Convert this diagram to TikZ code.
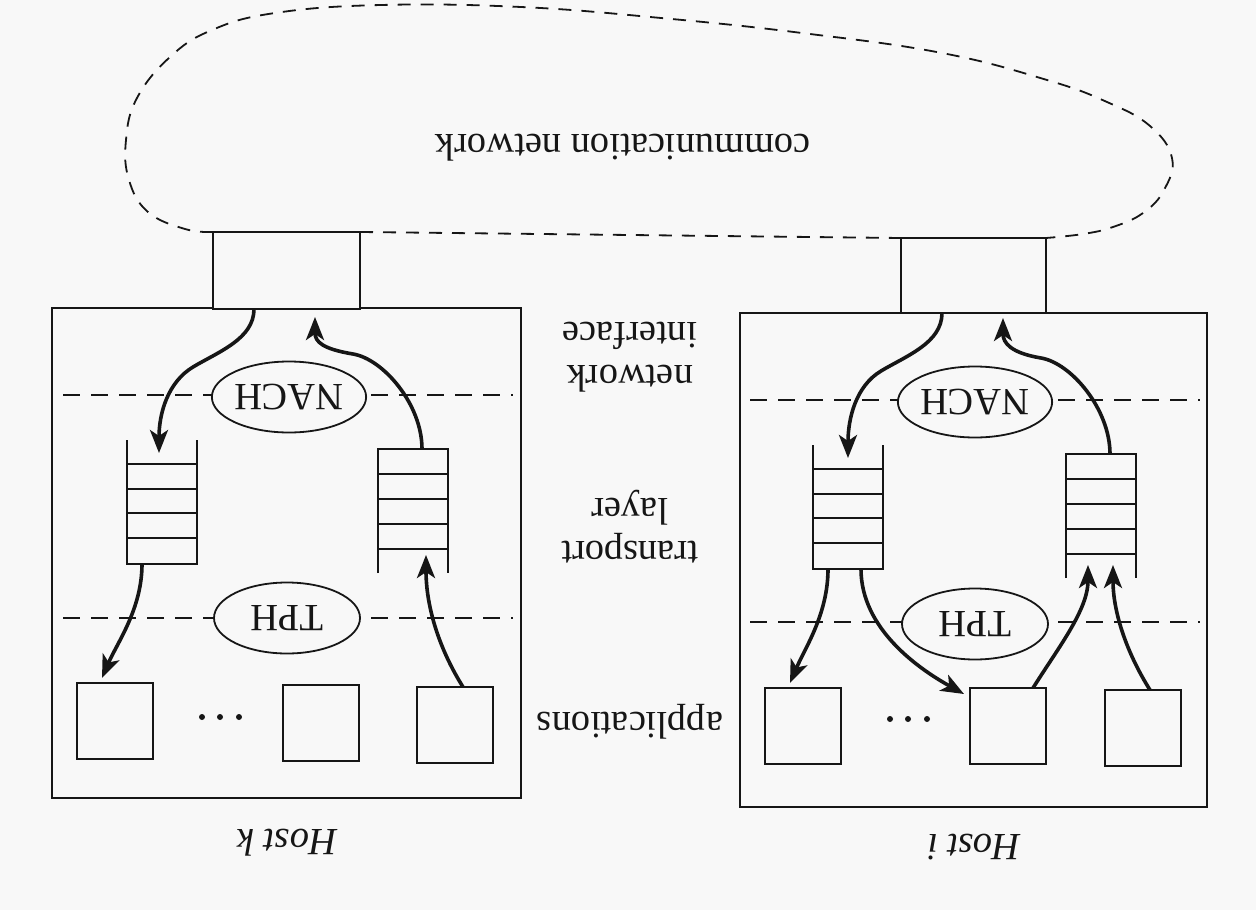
\documentclass[tikz,border=0pt]{standalone}
\usepackage{fontspec}
\setmainfont{Liberation Serif}
\usetikzlibrary{arrows.meta,shapes.geometric,calc}
\definecolor{paper}{RGB}{248,248,248}
\definecolor{ink}{RGB}{22,22,22}
\begin{document}
\begin{tikzpicture}[x=1pt,y=-1pt,
  every node/.style={font=\fontsize{38.5}{43}\selectfont, text=ink},
  label180/.style={rotate=180, align=center, inner sep=0pt},
  hostbox/.style={draw=ink, line width=2.4pt, anchor=north west, inner sep=0pt, outer sep=0pt},
  nibox/.style={draw=ink, line width=2pt, fill=paper, anchor=north west, inner sep=0pt, outer sep=0pt},
  appbox/.style={draw=ink, line width=2.4pt, anchor=north west, inner sep=0pt, outer sep=0pt,
    minimum width=76pt, minimum height=76pt},
  qarea/.style={anchor=north west, inner sep=0pt, outer sep=0pt,
    minimum width=70pt, minimum height=124pt},
  qline/.style={draw=ink, line width=2pt},
  layerline/.style={draw=ink, line width=1.8pt, dash pattern=on 17pt off 11pt},
  netline/.style={draw=ink, line width=1.8pt, dash pattern=on 13pt off 10pt},
  handler/.style={ellipse, draw=ink, line width=1.8pt, fill=paper, rotate=180,
    minimum width=146pt, minimum height=71pt, inner sep=0pt},
  conn/.style={draw=ink, line width=3.6pt,
    -{Stealth[length=23pt,width=18pt,inset=6pt]}},
  dot/.style={circle, fill=ink, inner sep=0pt, minimum size=6pt}
]
\fill[paper] (0,0) rectangle (1256,910);
\useasboundingbox (0,0) rectangle (1256,910);

% ---------- hosts ----------
\node[hostbox, minimum width=469pt, minimum height=490pt] (hk) at (52,308) {};
\node[hostbox, minimum width=467pt, minimum height=494pt] (hi) at (740,313) {};

% layer boundaries
\draw[layerline] (63,395) -- (513,395);
\draw[layerline] (63,618) -- (513,618);
\draw[layerline] (750,400) -- (1200,400);
\draw[layerline] (750,622) -- (1200,622);

% network interfaces
\node[nibox, minimum width=147pt, minimum height=77pt] (nik) at (213,232) {};
\node[nibox, minimum width=145pt, minimum height=75pt] (nii) at (901,238) {};

% communication network
\draw[netline] plot[smooth, tension=0.7] coordinates {
  (nik.north west) (185,229) (148,212) (129,180) (126,140) (137,98) (170,57)
  (212,30) (275,13) (381,5) (521,7) (661,18) (802,33) (942,53) (1047,80)
  (1107,102) (1150,126) (1172,158) (1164,190) (1143,213) (1113,227) (1083,234)
  (nii.north east)};
\draw[netline] (nik.north east) -- (nii.north west);
\node[label180] (netlabel) at (623,148) {communication network};

% handlers
\node[handler] (nachk) at (289,397) {NACH};
\node[handler] (tphk) at (287,618) {TPH};
\node[handler] (nachi) at (975,402) {NACH};
\node[handler] (tphi) at (975,624) {TPH};

% ---------- queues ----------
% incoming (open at the top)
\node[qarea] (qk1) at (127,440) {};
\node[qarea] (qi1) at (813,445) {};
\foreach \q in {qk1,qi1}{
  \draw[qline] (\q.north west) -- (\q.south west) -- (\q.south east) -- (\q.north east);
  \foreach \d in {24,49,73,98}
    \draw[qline] ($(\q.north west)+(0,\d)$) -- ($(\q.north east)+(0,\d)$);
}
% outgoing (open at the bottom)
\node[qarea] (qk2) at (378,449) {};
\node[qarea] (qi2) at (1066,454) {};
\foreach \q in {qk2,qi2}{
  \draw[qline] (\q.south west) -- (\q.north west) -- (\q.north east) -- (\q.south east);
  \foreach \d in {25,50,75,100}
    \draw[qline] ($(\q.north west)+(0,\d)$) -- ($(\q.north east)+(0,\d)$);
}

% ---------- applications ----------
\node[appbox] (ak1) at (77,683) {};
\node[appbox] (ak2) at (283,685) {};
\node[appbox] (ak3) at (417,687) {};
\foreach \x [count=\n] in {202,220,239} \node[dot] (dk\n) at (\x,717) {};
\node[appbox] (ai1) at (765,688) {};
\node[appbox] (ai2) at (970,688) {};
\node[appbox] (ai3) at (1105,690) {};
\foreach \x [count=\n] in {890,908,927} \node[dot] (di\n) at (\x,719) {};

% ---------- data paths, host k ----------
\draw[conn] ($(nik.south west)+(41,0)$) .. controls +(0,30) and +(25,-15) ..
  ($(nik.south west)+(-20,58)$) .. controls +(-25,15) and +(0,-40) .. ($(qk1.north)+(-3,13)$);
\draw[conn] ($(qk2.north)+(9,0)$) .. controls +(0,-45) and +(30,5) ..
  ($(nik.south west)+(140,45)$) .. controls +(-30,-5) and +(0,25) .. ($(nik.south west)+(102,8)$);
\draw[conn] ($(qk1.south)+(-20,0)$) .. controls +(0,45) and +(15,-35) .. ($(ak1.north west)+(25,-5)$);
\draw[conn] ($(ak3.north)+(8,0)$) .. controls +(-25,-40) and +(0,50) .. ($(qk2.south)+(13,-18)$);

% ---------- data paths, host i ----------
\draw[conn] ($(nii.south west)+(41,0)$) .. controls +(0,30) and +(25,-15) ..
  ($(nii.south west)+(-20,58)$) .. controls +(-25,15) and +(0,-40) .. ($(qi1.north)+(0,13)$);
\draw[conn] ($(qi2.north)+(9,0)$) .. controls +(0,-45) and +(30,5) ..
  ($(nii.south west)+(140,45)$) .. controls +(-30,-5) and +(0,25) .. ($(nii.south west)+(102,5)$);
\draw[conn] ($(qi1.south)+(-20,0)$) .. controls +(0,45) and +(15,-35) .. ($(ai1.north west)+(25,-5)$);
\draw[conn] ($(qi1.south)+(13,0)$) .. controls +(0,60) and +(-45,-25) .. ($(ai2.north west)+(-6,6)$);
\draw[conn] ($(ai2.north)+(25,0)$) .. controls +(25,-40) and +(0,45) .. ($(qi2.south)+(-13,-13)$);
\draw[conn] ($(ai3.north)+(7,0)$) .. controls +(-25,-40) and +(0,45) .. ($(qi2.south)+(12,-13)$);

% ---------- layer names and host names ----------
\node[label180] (lni) at (630,357) {network\\interface};
\node[label180] (ltl) at (630,527) {transport\\layer};
\node[label180] (lap) at (630,722) {applications};
\node[label180] (hkname) at (287,843) {\textit{Host k}};
\node[label180] (hiname) at (974,847) {\textit{Host i}};
\end{tikzpicture}
\end{document}
